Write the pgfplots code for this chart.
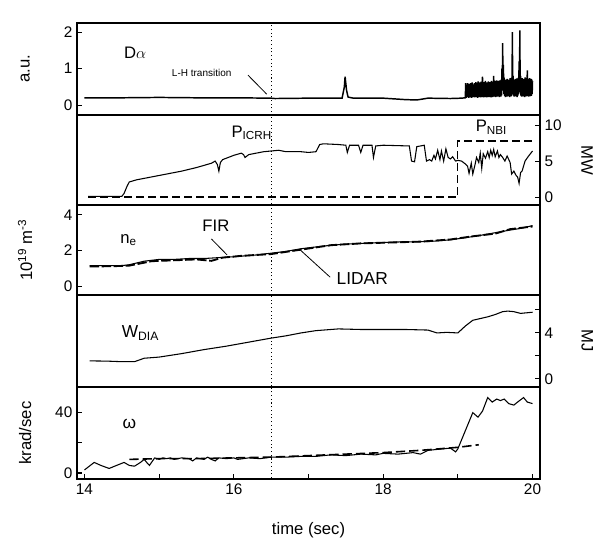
\documentclass[border=0pt]{standalone}
\usepackage{fontspec}
\setmainfont{Liberation Sans}
\usepackage{pgfplots}
\pgfplotsset{compat=1.18}
\pgfplotsset{
 panel/.style={scale only axis, width=347.25pt, xmin=13.9, xmax=20.1,
  anchor=north west,
  axis line style={line width=1pt},
  tick style={line width=0.8pt, black},
  tick align=inside, major tick length=4pt,
  xtick=\empty, clip=true,
  every axis plot/.append style={line width=0.8pt, black, mark=none},
  /pgf/number format/assume math mode=true,
  ticklabel style={font=\fontsize{11.5}{12}\selectfont},
  label style={font=\fontsize{12.5}{14}\selectfont},
 },
 lft/.style={ytick pos=left, ylabel style={at={(axis description cs:-0.112,0.5)}, anchor=center}},
 rgt/.style={ytick pos=right, yticklabel pos=right, ylabel style={at={(axis description cs:1.102,0.5)}, anchor=center, rotate=180}},
}
\newcommand{\lhline}{\addplot[dotted, line width=0.9pt] coordinates {(16.5,-100)(16.5,100)};}
\begin{document}
\begin{tikzpicture}
\useasboundingbox (0,0) rectangle (445.5pt,-412.5pt);
% Panel 1: D alpha
\begin{axis}[panel, lft, at={(57.75pt,-17.25pt)}, height=69pt,
  ymin=-0.27, ymax=2.25, ytick={0,1,2}, ylabel={a.u.}]
\lhline
\addplot[solid, line width=1.1pt] coordinates {
(14.0,0.2)(14.5,0.2)(15.0,0.21)(15.5,0.2)(16.0,0.2)(16.5,0.19)(16.55,0.18)(17.0,0.19)(17.45,0.19)(17.48,0.5)(17.49,0.78)(17.51,0.4)(17.53,0.22)(17.6,0.19)(18.0,0.19)(18.3,0.15)(18.45,0.14)(18.6,0.19)(18.9,0.18)(19.05,0.19)(19.1,0.2)
(19.105,0.6)(19.11,0.2)(19.115,0.55)(19.12,0.22)(19.13,0.6)(19.135,0.25)(19.14,0.5)(19.145,0.2)(19.15,0.58)(19.155,0.24)(19.16,0.52)(19.165,0.21)(19.17,0.6)(19.175,0.26)(19.18,0.55)(19.185,0.2)(19.19,0.62)(19.195,0.25)(19.2,0.5)(19.205,0.22)(19.21,0.57)(19.215,0.27)(19.22,0.6)(19.225,0.21)(19.23,0.54)(19.235,0.25)(19.24,0.63)(19.245,0.22)(19.25,0.56)(19.255,0.26)(19.26,0.6)(19.265,0.2)(19.27,0.65)(19.275,0.24)(19.28,0.55)(19.285,0.22)(19.29,0.62)(19.295,0.27)(19.3,0.58)(19.305,0.21)(19.31,0.64)(19.315,0.25)(19.32,0.57)(19.325,0.22)(19.33,0.78)(19.335,0.24)(19.34,0.6)(19.345,0.21)(19.35,0.63)(19.355,0.26)(19.36,0.55)(19.365,0.22)(19.37,0.66)(19.375,0.25)(19.38,0.58)(19.385,0.21)(19.39,0.62)(19.395,0.27)(19.4,0.6)(19.405,0.22)(19.41,0.65)(19.415,0.25)(19.42,0.57)(19.425,0.22)(19.43,0.63)(19.435,0.26)(19.44,0.6)(19.445,0.21)(19.45,0.66)(19.455,0.25)(19.46,0.58)(19.465,0.22)(19.47,0.64)(19.475,0.27)(19.48,0.8)(19.485,0.23)(19.49,0.62)(19.495,0.25)(19.5,0.66)(19.505,0.22)(19.51,0.6)(19.515,0.26)(19.52,0.68)(19.525,0.23)(19.53,0.62)(19.535,0.27)(19.54,0.66)(19.545,0.24)(19.55,0.6)(19.555,0.22)(19.56,0.68)(19.565,0.26)(19.57,0.64)(19.575,0.23)(19.58,0.7)(19.585,0.27)(19.59,1.0)(19.595,0.4)(19.6,1.7)(19.605,0.5)(19.61,1.1)(19.615,0.3)(19.62,0.75)(19.625,0.25)(19.63,0.66)(19.635,0.22)(19.64,0.7)(19.645,0.26)(19.65,0.65)(19.655,0.23)(19.66,0.72)(19.665,0.27)(19.67,0.66)(19.675,0.24)(19.68,0.7)(19.685,0.25)(19.69,0.68)(19.695,0.22)(19.7,0.74)(19.705,0.26)(19.71,0.68)(19.715,0.24)(19.72,0.75)(19.725,0.3)(19.73,2.0)(19.735,0.4)(19.74,0.8)(19.745,0.26)(19.75,0.7)(19.755,0.23)(19.76,0.66)(19.765,0.27)(19.77,0.72)(19.775,0.24)(19.78,0.68)(19.785,0.26)(19.79,0.73)(19.795,0.22)(19.8,0.7)(19.805,0.26)(19.81,0.75)(19.815,0.3)(19.82,1.2)(19.825,0.35)(19.83,2.05)(19.835,0.4)(19.84,0.8)(19.845,0.26)(19.85,0.7)(19.855,0.23)(19.86,0.74)(19.865,0.27)(19.87,0.68)(19.875,0.24)(19.88,0.72)(19.885,0.26)(19.89,0.7)(19.895,0.22)(19.9,0.76)(19.905,0.26)(19.91,0.7)(19.915,0.24)(19.92,0.74)(19.925,0.27)(19.93,0.95)(19.935,0.25)(19.94,0.72)(19.945,0.23)(19.95,0.7)(19.955,0.26)(19.96,0.74)(19.965,0.24)(19.97,0.68)(19.975,0.27)(19.98,0.72)(19.985,0.25)(19.99,0.7)(19.995,0.3)(20.0,0.65)};
\node[font=\fontsize{12.5}{14}\selectfont] at (axis cs:14.68,1.42) {D$\alpha$};
\node[font=\fontsize{7.5}{9}\selectfont] at (axis cs:15.57,0.88) {L-H transition};
\draw[line width=0.6pt] (axis cs:16.19,0.82) -- (axis cs:16.44,0.30);
\node[font=\fontsize{12.5}{14}\selectfont] at (axis description cs:0.81,1.11) {Pulse No:\ \ 32411};
\end{axis}
% Panel 2: power
\begin{axis}[panel, rgt, at={(57.75pt,-86.25pt)}, height=67.5pt,
  ymin=-1.1, ymax=11.4, ytick={0,5,10}, ylabel={MW}]
\lhline
\addplot[solid] coordinates {
(14.05,0.1)(14.5,0.1)(14.53,0.5)(14.57,1.5)(14.6,2.1)(14.7,2.4)(15.0,3.0)(15.3,3.6)(15.5,4.1)(15.7,4.7)(15.75,5.0)(15.78,4.5)(15.8,3.6)(15.82,4.8)(15.85,5.2)(16.0,5.8)(16.1,6.1)(16.13,5.9)(16.15,5.5)(16.2,5.9)(16.3,6.1)(16.4,6.3)(16.5,6.4)(16.6,6.5)(16.7,6.3)(16.9,6.3)(17.0,6.2)(17.1,6.3)(17.15,7.3)(17.2,7.4)(17.4,7.3)(17.5,7.2)(17.52,6.2)(17.55,7.2)(17.67,7.2)(17.7,6.2)(17.73,7.2)(17.85,7.2)(17.87,5.5)(17.9,7.1)(18.0,7.2)(18.35,7.1)(18.38,5.0)(18.42,4.9)(18.45,7.0)(18.55,7.2)(18.58,5.0)(18.62,5.2)(18.65,5.0)(18.68,5.8)(18.7,5.3)(18.73,6.5)(18.76,5.2)(18.78,6.4)(18.81,5.0)(18.84,6.7)(18.87,5.5)(18.9,5.3)(18.93,5.6)(18.97,5.0)(19.0,5.1)(19.05,5.0)(19.1,4.6)(19.13,4.3)(19.15,3.3)(19.18,4.7)(19.2,3.2)(19.23,4.5)(19.25,5.5)(19.28,4.8)(19.3,6.1)(19.32,4.0)(19.34,6.0)(19.37,5.4)(19.4,6.3)(19.42,5.5)(19.44,6.5)(19.46,5.8)(19.48,6.6)(19.5,5.6)(19.53,6.4)(19.55,5.5)(19.57,5.9)(19.6,5.5)(19.63,5.0)(19.66,5.7)(19.7,4.8)(19.72,3.2)(19.75,3.6)(19.78,3.0)(19.8,2.8)(19.82,1.9)(19.84,3.4)(19.86,3.6)(19.9,5.0)(19.94,5.6)(19.97,6.0)(20.0,6.4)};
\addplot[dashed, line width=0.9pt, dash pattern=on 6pt off 3pt] coordinates {(14.05,0)(19.0,0)(19.0,7.8)(20.0,7.8)};
\node[font=\fontsize{12.5}{14}\selectfont] at (axis cs:16.24,8.9) {P\textsubscript{ICRH}};
\node[font=\fontsize{12.5}{14}\selectfont] at (axis cs:19.45,9.7) {P\textsubscript{NBI}};
\end{axis}
% Panel 3: density
\begin{axis}[panel, lft, at={(57.75pt,-153.75pt)}, height=67.5pt,
  ymin=-0.5, ymax=4.56, ytick={0,2,4}, ylabel={10\textsuperscript{19} m\textsuperscript{-3}}]
\lhline
\addplot[solid] coordinates {
(14.07,1.15)(14.3,1.15)(14.5,1.15)(14.6,1.2)(14.8,1.4)(15.0,1.5)(15.2,1.5)(15.4,1.55)(15.6,1.55)(15.8,1.6)(16.0,1.65)(16.3,1.75)(16.5,1.85)(16.7,1.95)(16.9,2.1)(17.2,2.25)(17.46,2.35)(17.8,2.42)(18.2,2.48)(18.6,2.5)(18.9,2.6)(19.1,2.72)(19.3,2.85)(19.5,3.0)(19.7,3.15)(19.85,3.25)(20.0,3.4)};
\addplot[dashed, line width=1.4pt, dash pattern=on 7pt off 2pt] coordinates {
(14.07,1.1)(14.4,1.12)(14.6,1.15)(14.9,1.4)(15.2,1.45)(15.5,1.5)(15.7,1.42)(15.85,1.6)(16.1,1.7)(16.5,1.8)(16.9,2.05)(17.3,2.3)(17.7,2.4)(18.1,2.45)(18.5,2.5)(18.9,2.62)(19.2,2.8)(19.5,2.95)(19.7,3.2)(19.9,3.3)(20.0,3.35)};
\node[font=\fontsize{12.5}{14}\selectfont] at (axis cs:14.59,2.6) {n\textsubscript{e}};
\node[font=\fontsize{12.5}{14}\selectfont] at (axis cs:15.76,3.38) {FIR};
\draw[line width=0.6pt] (axis cs:15.70,2.65) -- (axis cs:15.91,1.75);
\node[font=\fontsize{13}{15}\selectfont] at (axis cs:17.72,0.4) {LIDAR};
\draw[line width=0.6pt] (axis cs:16.89,2.03) -- (axis cs:17.29,0.5);
\end{axis}
% Panel 4: W_DIA
\begin{axis}[panel, rgt, at={(57.75pt,-221.25pt)}, height=69pt,
  ymin=-0.7, ymax=7.3, ytick={0,2,4,6}, yticklabels={0,,4,}, ylabel={MJ}]
\lhline
\addplot[solid] coordinates {
(14.07,1.57)(14.3,1.55)(14.5,1.5)(14.67,1.5)(14.8,1.8)(15.0,1.9)(15.3,2.2)(15.6,2.55)(15.9,2.85)(16.2,3.2)(16.5,3.55)(16.7,3.75)(16.9,4.0)(17.1,4.2)(17.4,4.35)(17.7,4.3)(18.0,4.3)(18.3,4.3)(18.6,4.25)(18.72,4.0)(18.85,4.05)(19.0,4.0)(19.1,4.6)(19.2,5.1)(19.3,5.25)(19.4,5.4)(19.5,5.6)(19.6,5.85)(19.67,5.9)(19.75,5.85)(19.84,5.7)(19.92,5.75)(20.0,5.8)};
\node[font=\fontsize{13}{15}\selectfont] at (axis cs:14.75,4.0) {W\textsubscript{DIA}};
\end{axis}
% Panel 5: omega
\begin{axis}[panel, lft, at={(57.75pt,-290.25pt)}, height=69pt,
  ymin=-4, ymax=57, ytick={0,20,40}, yticklabels={0,,40}, ylabel={krad/sec},
  xtick={14,15,16,17,18,19,20}, xticklabels={14,,16,,18,,20}, xtick pos=bottom,
  xlabel={time (sec)}, xlabel style={at={(axis description cs:0.5,-0.56)}, anchor=center}]
\lhline
\addplot[solid] coordinates {
(14.0,2)(14.13,7)(14.22,5)(14.33,3)(14.43,5)(14.53,7)(14.6,5)(14.67,4.5)(14.75,7)(14.8,9)(14.85,6)(14.87,5)(14.94,10)(15.0,9)(15.05,10)(15.1,9.5)(15.15,10)(15.2,9)(15.3,10)(15.4,9.5)(15.45,8)(15.5,10)(15.6,9)(15.65,10.5)(15.7,9)(15.75,8)(15.8,10)(15.9,9.5)(16.0,10)(16.05,9)(16.2,10)(16.35,9.5)(16.5,10.5)(16.7,10.5)(16.9,11)(17.1,11)(17.3,12)(17.5,11.5)(17.7,12.5)(17.9,12)(18.0,13)(18.2,12.5)(18.4,13.5)(18.5,12.5)(18.6,15)(18.8,16)(18.9,16.5)(18.97,14)(19.0,16)(19.1,28)(19.2,40)(19.27,37)(19.33,41)(19.4,50)(19.46,47)(19.52,49)(19.57,48)(19.62,49)(19.68,46)(19.75,45)(19.8,47)(19.88,50)(19.93,47)(20.0,46)};
\addplot[dashed, line width=1.2pt, dash pattern=on 7pt off 3pt] coordinates {
(14.6,9)(15.0,9.5)(15.5,9.5)(16.0,10)(16.5,10.5)(17.0,11.5)(17.5,12.5)(18.0,13.5)(18.5,15)(19.0,17)(19.28,18.7)};
\node[font=\fontsize{13}{15}\selectfont] at (axis cs:14.6,32.7) {ω};
\end{axis}
\end{tikzpicture}
\end{document}
